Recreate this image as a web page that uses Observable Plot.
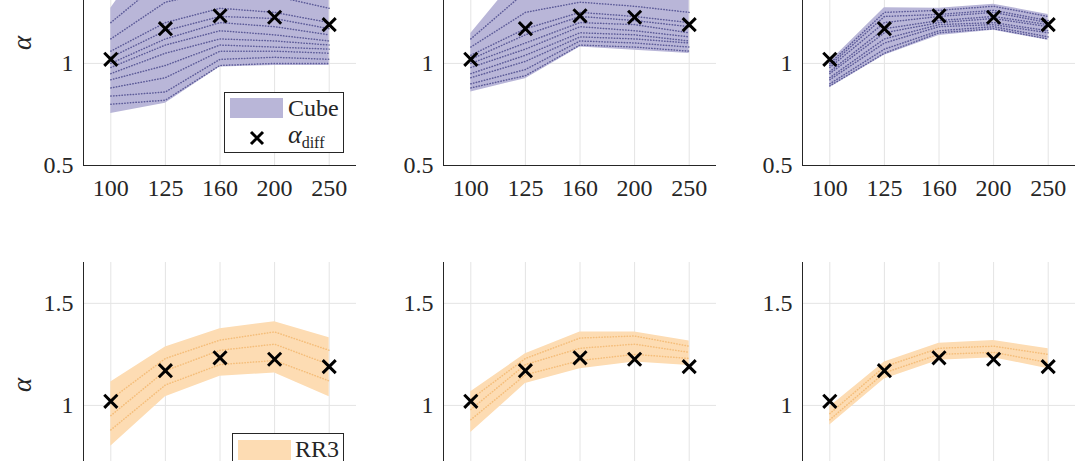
<!DOCTYPE html>
<html>
<head>
<meta charset="utf-8">
<script src="https://cdn.jsdelivr.net/npm/d3@7"></script>
<script src="https://cdn.jsdelivr.net/npm/@observablehq/plot@0.6"></script>
<style>
  body { margin: 0; background: #fff; }
  #fig { position: relative; width: 1085px; height: 461px; overflow: hidden;
         font-family: "Liberation Serif", serif; color: #262626; }
  .panel { position: absolute; }
  .panel g[aria-label="y-axis label"] text { font-style: italic; font-size: 27px; }
  .legend { position: absolute; background: #fff; border: 1px solid #262626; box-sizing: border-box; }
  .legend div, .legend span, .legend svg { position: absolute; }
  .legend span { font-size: 24px; line-height: 24px; white-space: nowrap; }
  .legend i { font-size: 26px; }
  .legend sub { font-size: 16px; font-style: normal; vertical-align: -5px; }
</style>
</head>
<body>
<div id="fig"></div>
<script>
// third-octave bands (tick labels) and the measured diffuse-field alpha
const freqs = ["100", "125", "160", "200", "250"]
const alphaDiff = [1.02, 1.17, 1.233, 1.226, 1.19]

// Cube (top row): lower / upper edge of the spread, per panel
const cubeLow1 = [0.755, 0.805, 0.982, 0.99, 0.99]
const cubeHigh1 = [1.27, 1.65, 1.66, 1.63, 1.56]
const cubeLow2 = [0.86, 0.925, 1.08, 1.064, 1.048]
const cubeHigh2 = [1.146, 1.47, 1.5, 1.48, 1.42]
const cubeLow3 = [0.881, 1.04, 1.137, 1.162, 1.113]
const cubeHigh3 = [1.01, 1.273, 1.27, 1.29, 1.24]

// RR3 (bottom row)
const rrLow1 = [0.80, 1.042, 1.143, 1.159, 1.042]
const rrHigh1 = [1.115, 1.286, 1.375, 1.41, 1.331]
const rrLow2 = [0.867, 1.107, 1.18, 1.213, 1.196]
const rrHigh2 = [1.067, 1.253, 1.359, 1.359, 1.315]
const rrLow3 = [0.904, 1.13, 1.221, 1.234, 1.18]
const rrHigh3 = [0.994, 1.213, 1.305, 1.318, 1.278]

// some of the individual dotted curves inside each spread
const cubeLines1 = [
  [0.8, 0.82, 0.99, 1.0, 1.0],
  [0.84, 0.86, 1.02, 1.03, 1.02],
  [0.88, 0.93, 1.06, 1.06, 1.05],
  [0.92, 0.99, 1.09, 1.08, 1.07],
  [0.95, 1.05, 1.12, 1.11, 1.09],
  [0.98, 1.09, 1.16, 1.14, 1.11],
  [1.0, 1.12, 1.2, 1.18, 1.14],
  [1.03, 1.16, 1.23, 1.22, 1.17],
  [1.06, 1.2, 1.27, 1.25, 1.2],
  [1.12, 1.3, 1.36, 1.33, 1.27],
  [1.2, 1.42, 1.48, 1.45, 1.38]
]
const cubeLines2 = [
  [0.88, 0.94, 1.09, 1.08, 1.06],
  [0.9, 0.97, 1.11, 1.1, 1.08],
  [0.93, 1.01, 1.13, 1.12, 1.1],
  [0.95, 1.04, 1.15, 1.14, 1.11],
  [0.98, 1.07, 1.18, 1.16, 1.13],
  [1.0, 1.1, 1.2, 1.19, 1.15],
  [1.02, 1.14, 1.23, 1.21, 1.18],
  [1.04, 1.17, 1.25, 1.23, 1.2],
  [1.08, 1.25, 1.3, 1.28, 1.25],
  [1.12, 1.35, 1.4, 1.38, 1.32]
]
const cubeLines3 = [
  [0.89, 1.05, 1.15, 1.17, 1.12],
  [0.9, 1.07, 1.16, 1.18, 1.13],
  [0.92, 1.1, 1.18, 1.19, 1.15],
  [0.93, 1.12, 1.19, 1.2, 1.16],
  [0.95, 1.15, 1.2, 1.22, 1.18],
  [0.96, 1.17, 1.21, 1.23, 1.19],
  [0.98, 1.2, 1.23, 1.25, 1.2],
  [0.99, 1.23, 1.24, 1.26, 1.21],
  [1.0, 1.25, 1.26, 1.28, 1.23]
]
const rrLines1 = [
  [0.88, 1.1, 1.2, 1.22, 1.12],
  [0.95, 1.17, 1.27, 1.3, 1.2],
  [1.03, 1.23, 1.32, 1.36, 1.27]
]
const rrLines2 = [
  [0.93, 1.15, 1.22, 1.25, 1.23],
  [0.98, 1.2, 1.28, 1.3, 1.26],
  [1.03, 1.23, 1.33, 1.34, 1.29]
]
const rrLines3 = [
  [0.93, 1.16, 1.25, 1.26, 1.21],
  [0.96, 1.19, 1.28, 1.29, 1.25]
]

const cubeFill = "#b9b6d8", cubeDots = "#1f1f70"
const rrFill = "#fddcb3", rrDots = "#eb9a35"

// ticks that fall inside the visible part of each row
const topTicks = [0.5, 1]
const bottomTicks = [1, 1.5]

function panel(low, high, lines, fill, dots, ylabel, yTicks, xLabels, dotOpacity) {
  const idx = freqs.map((f, i) => i + 1)
  const band = idx.map((k, i) => ({k, lo: low[i], hi: high[i]}))
  const curves = lines.flatMap((c, j) => c.map((v, i) => ({k: i + 1, v, id: j})))
  const crosses = idx.map((k, i) => ({k, v: alphaDiff[i]}))
  return Plot.plot({
    width: 363,
    height: 305,
    marginLeft: 80,
    marginRight: 10,
    marginTop: 10,
    marginBottom: 50,
    style: {
      background: "none",
      color: "#262626",
      fontFamily: "Liberation Serif",
      fontSize: "24px",
      overflow: "visible"
    },
    x: {
      domain: [0.5, 5.5],
      ticks: xLabels ? idx : [],
      tickFormat: k => freqs[k - 1],
      tickSize: 0,
      tickPadding: 13,
      label: null
    },
    y: {
      domain: [0.5, 1.7],
      ticks: yTicks,
      tickFormat: d => String(d),
      tickSize: 0,
      tickPadding: 10,
      label: ylabel,
      labelAnchor: "center",
      labelArrow: "none",
      labelOffset: 72
    },
    marks: [
      Plot.ruleX(idx, {stroke: "#e4e4e4"}),
      Plot.ruleY([0.5, 1, 1.5], {stroke: "#e4e4e4"}),
      Plot.areaY(band, {x: "k", y1: "lo", y2: "hi", fill}),
      Plot.line(curves, {x: "k", y: "v", z: "id", stroke: dots, strokeWidth: 1.5,
        strokeDasharray: "0.4 2.4", strokeLinecap: "round", strokeOpacity: dotOpacity}),
      Plot.ruleX([0.5], {stroke: "#262626"}),
      Plot.ruleY([0.5], {stroke: "#262626"}),
      Plot.dot(crosses, {x: "k", y: "v", symbol: "times", r: 6, stroke: "black", strokeWidth: 3})
    ]
  })
}

const fig = d3.select("#fig")
const panels = [
  {left: 3, top: -90, low: cubeLow1, high: cubeHigh1, lines: cubeLines1, fill: cubeFill, dots: cubeDots, label: "α"},
  {left: 363, top: -90, low: cubeLow2, high: cubeHigh2, lines: cubeLines2, fill: cubeFill, dots: cubeDots, label: null},
  {left: 722, top: -90, low: cubeLow3, high: cubeHigh3, lines: cubeLines3, fill: cubeFill, dots: cubeDots, label: null},
  {left: 3, top: 252, low: rrLow1, high: rrHigh1, lines: rrLines1, fill: rrFill, dots: rrDots, label: "α"},
  {left: 363, top: 252, low: rrLow2, high: rrHigh2, lines: rrLines2, fill: rrFill, dots: rrDots, label: null},
  {left: 722, top: 252, low: rrLow3, high: rrHigh3, lines: rrLines3, fill: rrFill, dots: rrDots, label: null}
]
panels.forEach(p => {
  const top = p.top < 0
  fig.append("div")
    .attr("class", "panel")
    .style("left", p.left + "px")
    .style("top", p.top + "px")
    .append(() => panel(p.low, p.high, p.lines, p.fill, p.dots, p.label,
      top ? topTicks : bottomTicks, top, top ? 0.6 : 0.45))
})

// legends
fig.append("div").attr("class", "legend")
  .style("left", "224px").style("top", "92px").style("width", "120px").style("height", "61px")
  .html(`<div style="left:5px;top:5px;width:53px;height:20px;background:${cubeFill}"></div>
         <span style="left:63px;top:3px">Cube</span>
         <svg style="left:24px;top:37px" width="16" height="16" viewBox="-8 -8 16 16"><path d="M-6,-6L6,6M6,-6L-6,6" stroke="black" stroke-width="3"/></svg>
         <span style="left:63px;top:30px"><i>α</i><sub>diff</sub></span>`)
fig.append("div").attr("class", "legend")
  .style("left", "232px").style("top", "433px").style("width", "112px").style("height", "60px")
  .html(`<div style="left:5px;top:6px;width:53px;height:20px;background:${rrFill}"></div>
         <span style="left:62px;top:3px">RR3</span>`)
</script>
</body>
</html>
